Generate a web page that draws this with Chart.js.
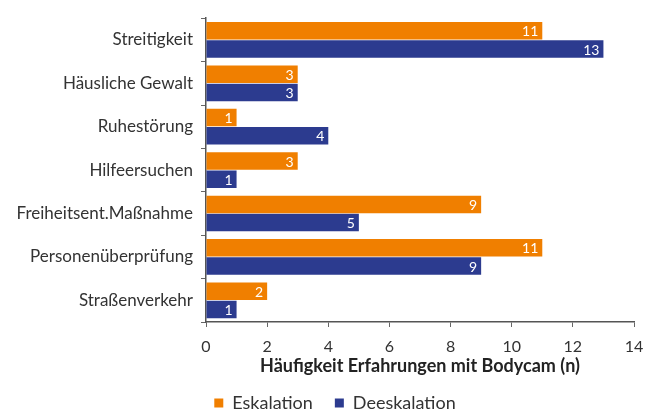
<!DOCTYPE html>
<html>
<head>
<meta charset="utf-8">
<script src="https://cdn.jsdelivr.net/npm/chart.js@4/dist/chart.umd.min.js"></script>
<style>
  html, body { margin: 0; padding: 0; background: #fff; }
  #wrap { width: 656px; height: 415px; }
</style>
</head>
<body>
<div id="wrap"><canvas id="chart"></canvas></div>
<script>
// Kategorien und Werte aus der Abbildung
const kategorien = ['Streitigkeit', 'Häusliche Gewalt', 'Ruhestörung', 'Hilfeersuchen',
  'Freiheitsent.Maßnahme', 'Personenüberprüfung', 'Straßenverkehr'];
const eskalation = [11, 3, 1, 3, 9, 11, 2];
const deeskalation = [13, 3, 4, 1, 5, 9, 1];
const xTicks = [0, 2, 4, 6, 8, 10, 12, 14];

const FONT = 'Lato, "Open Sans", sans-serif';
const ORANGE = '#f07f00';
const BLUE = '#2c3b8f';

// Zahlen weiß am Balkenende
const barLabels = {
  id: 'barLabels',
  afterDatasetsDraw(chart) {
    const ctx = chart.ctx;
    ctx.save();
    ctx.fillStyle = '#fff';
    ctx.font = '14px ' + FONT;
    ctx.textAlign = 'right';
    ctx.textBaseline = 'middle';
    chart.data.datasets.forEach((ds, i) => {
      chart.getDatasetMeta(i).data.forEach((bar, j) => {
        ctx.fillText(String(ds.data[j]), bar.x - 4, bar.y + 1);
      });
    });
    ctx.restore();
  }
};

// Legende etwas nach rechts schieben (wie im Original)
const legendShift = {
  id: 'legendShift',
  afterLayout(chart) {
    if (!chart.legend) return;
    chart.legend.left += 18;
    chart.legend.right += 18;
  }
};

new Chart(document.getElementById('chart'), {
  type: 'bar',
  data: {
    labels: kategorien,
    datasets: [
      { label: 'Eskalation', data: eskalation, backgroundColor: ORANGE },
      { label: 'Deeskalation', data: deeskalation, backgroundColor: BLUE }
    ]
  },
  options: {
    indexAxis: 'y',
    responsive: true,
    maintainAspectRatio: false,
    animation: false,
    datasets: { bar: { categoryPercentage: 0.84, barPercentage: 0.96 } },
    // unten negativ, damit die Legende tiefer sitzt
    layout: { padding: { top: 15, right: 22, bottom: -7, left: 0 } },
    plugins: {
      tooltip: { enabled: false },
      legend: {
        position: 'bottom',
        labels: {
          font: { family: FONT, size: 18 },
          color: '#333',
          usePointStyle: true,
          pointStyle: 'rect',
          boxWidth: 9,
          boxHeight: 9,
          padding: 22
        }
      }
    },
    scales: {
      x: {
        min: 0,
        max: 14,
        afterBuildTicks: s => { s.ticks = xTicks.map(v => ({ value: v })); },
        afterFit: s => { s.height = 50; },
        ticks: { font: { family: FONT, size: 16 }, color: '#333', padding: 10 },
        grid: { drawOnChartArea: false, drawTicks: true, tickLength: 5, color: '#666' },
        border: { display: true, color: '#555', width: 1.5 },
        title: {
          display: true,
          text: 'Häufigkeit Erfahrungen mit Bodycam (n)',
          font: { family: FONT, size: 18, weight: 'bold' },
          color: '#222',
          padding: { top: 0, bottom: -5 }
        }
      },
      y: {
        afterFit: s => { s.width = 206; },
        ticks: { font: { family: FONT, size: 17 }, color: '#333', padding: 8 },
        grid: { drawOnChartArea: false, drawTicks: true, tickLength: 5, color: '#666', offset: true },
        border: { display: true, color: '#555', width: 1.5 }
      }
    }
  },
  plugins: [barLabels, legendShift]
});
</script>
</body>
</html>
